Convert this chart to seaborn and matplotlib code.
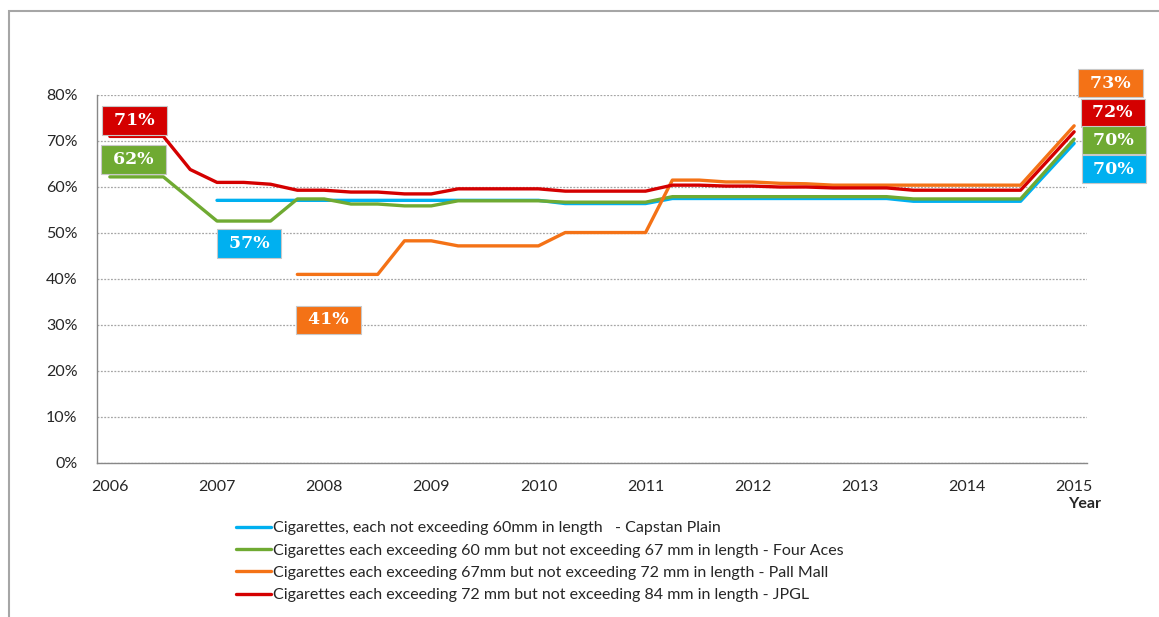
import numpy as np
import pandas as pd
import matplotlib
matplotlib.use("Agg")
import matplotlib.pyplot as plt
from matplotlib.patches import Rectangle
from matplotlib.ticker import PercentFormatter
import seaborn as sns

# ============================================
# Data (quarterly, 2006 -> 2015), NaN = no reading
# ============================================
quarters = np.arange(2006.0, 2015.01, 0.25)
nan = np.nan

capstan = [nan, nan, nan, nan, 57.1, 57.1, 57.1, 57.1, 57.1, 57.1,
           57.1, 57.1, 57.1, 57.1, 57.1, 57.1, 57.1, 56.4, 56.4, 56.4,
           56.4, 57.5, 57.5, 57.5, 57.5, 57.5, 57.5, 57.5, 57.5, 57.5,
           56.9, 56.9, 56.9, 56.9, 56.9, nan, 69.5]
four_aces = [62.2, 62.2, 62.2, 57.4, 52.6, 52.6, 52.6, 57.4, 57.4, 56.3,
             56.3, 55.9, 55.9, 57.0, 57.0, 57.0, 57.0, 56.7, 56.7, 56.7,
             56.7, 57.9, 57.9, 57.9, 57.9, 57.9, 57.9, 57.9, 57.9, 57.9,
             57.4, 57.4, 57.4, 57.4, 57.4, nan, 70.4]
pall_mall = [nan, nan, nan, nan, nan, nan, nan, 41.0, 41.0, 41.0,
             41.0, 48.3, 48.3, 47.2, 47.2, 47.2, 47.2, 50.1, 50.1, 50.1,
             50.1, 61.5, 61.5, 61.1, 61.1, 60.8, 60.7, 60.4, 60.4, 60.4,
             60.4, 60.4, 60.4, 60.4, 60.4, nan, 73.3]
jpgl = [71.0, 71.0, 71.0, 63.8, 61.0, 61.0, 60.6, 59.3, 59.3, 58.9,
        58.9, 58.5, 58.5, 59.6, 59.6, 59.6, 59.6, 59.1, 59.1, 59.1,
        59.1, 60.4, 60.4, 60.2, 60.2, 60.0, 60.0, 59.8, 59.8, 59.8,
        59.3, 59.3, 59.3, 59.3, 59.3, nan, 72.0]

series_names = [
    "Cigarettes, each not exceeding 60mm in length   - Capstan Plain",
    "Cigarettes each exceeding 60 mm but not exceeding 67 mm in length - Four Aces",
    "Cigarettes each exceeding 67mm but not exceeding 72 mm in length - Pall Mall",
    "Cigarettes each exceeding 72 mm but not exceeding 84 mm in length - JPGL",
]
series_values = [capstan, four_aces, pall_mall, jpgl]
colors = ["#00B0F0", "#6FAA32", "#F47216", "#D40000"]

year_ticks = list(range(2006, 2016))

# first / last value call-outs
start_labels = [71, 62, 57, 41]
start_colors = ["#D40000", "#6FAA32", "#00B0F0", "#F47216"]
end_labels = [73, 72, 70, 70]
end_colors = ["#F47216", "#D40000", "#6FAA32", "#00B0F0"]

# ============================================
# Long-form table for seaborn
# ============================================
frames = []
for name, vals in zip(series_names, series_values):
    frames.append(pd.DataFrame({"Year": quarters, "share": vals, "series": name}))
df = pd.concat(frames, ignore_index=True).dropna()

# ============================================
# Plot
# ============================================
sns.set_theme(style="white")
plt.rcParams["font.family"] = ["Lato", "DejaVu Sans"]

fig = plt.figure(figsize=(11.59, 6.17), dpi=100)
ax = fig.add_axes([97 / 1159, 1 - 463 / 617, (1087 - 97) / 1159, (463 - 95) / 617])

sns.lineplot(data=df, x="Year", y="share", hue="series",
             hue_order=series_names, palette=dict(zip(series_names, colors)),
             linewidth=2.4, errorbar=None, ax=ax)

ax.set_xlim(2005.88, 2015.12)
ax.set_ylim(0, 80)
ax.set_xticks(year_ticks)
ax.set_xticklabels([str(y) for y in year_ticks])
ax.set_yticks(range(0, 81, 10))
ax.yaxis.set_major_formatter(PercentFormatter(decimals=0))
ax.tick_params(axis="both", length=0, labelsize=11.5, colors="#262626")
ax.tick_params(axis="y", pad=14)
ax.tick_params(axis="x", pad=12)
ax.set_xlabel("")
ax.set_ylabel("")

ax.grid(axis="y", linestyle=(0, (1.5, 1.2)), color="#A6A6A6", linewidth=0.9)
ax.grid(axis="x", visible=False)
for side in ["top", "right"]:
    ax.spines[side].set_visible(False)
for side in ["left", "bottom"]:
    ax.spines[side].set_color("#888888")
    ax.spines[side].set_linewidth(1.0)

# call-out boxes
start_pos = [(2006.23, 74.5), (2006.22, 65.9), (2007.30, 47.8), (2008.04, 31.1)]
end_pos = [(2015.34, 82.6), (2015.36, 76.1), (2015.37, 70.2), (2015.37, 63.9)]
for val, col, (x, y) in zip(start_labels + end_labels, start_colors + end_colors,
                            start_pos + end_pos):
    ax.text(x, y, f" {val}% ", ha="center", va="center", color="white",
            fontsize=12.5, fontweight="bold", family="DejaVu Serif",
            bbox=dict(boxstyle="square,pad=0.34", facecolor=col,
                      edgecolor="#C8C8C8", linewidth=0.8),
            clip_on=False, zorder=5)

fig.text(1085 / 1159, 1 - 504 / 617, "Year", ha="center", va="center",
         fontsize=11.5, fontweight="bold", color="#262626")

# legend below the plot
handles, labels = ax.get_legend_handles_labels()
ax.get_legend().remove()
fig.legend(handles, labels, loc="upper left",
           bbox_to_anchor=(236 / 1159, 1 - 521 / 617),
           frameon=False, fontsize=11.5, handlelength=2.2,
           handletextpad=0.1, labelspacing=0.51, borderaxespad=0,
           borderpad=0)

# outer chart border (left + top visible)
fig.add_artist(Rectangle((9 / 1159, -0.1), 1.2, 1.1 - 11 / 617,
                         transform=fig.transFigure, fill=False,
                         edgecolor="#A6A6A6", linewidth=1.5, clip_on=False))

fig.savefig("out.png", dpi=100)
